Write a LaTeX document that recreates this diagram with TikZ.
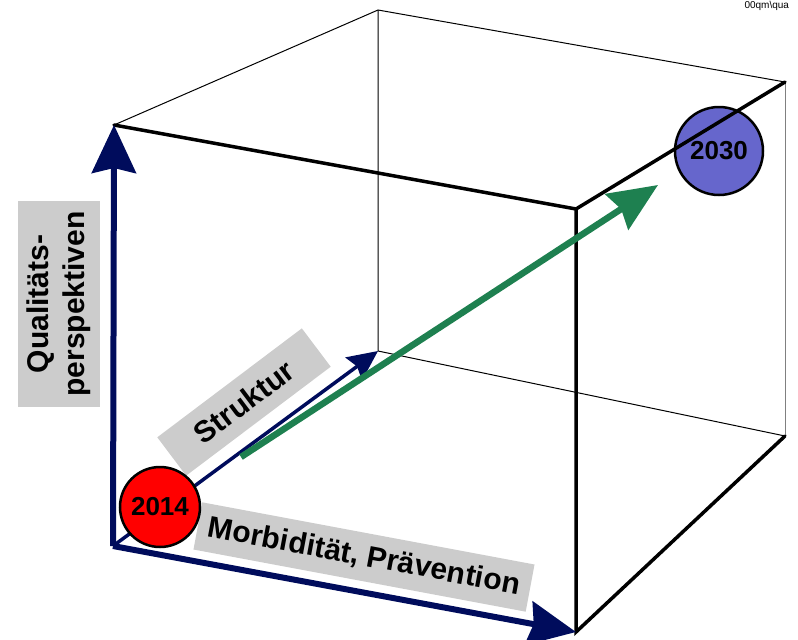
\documentclass[tikz,border=0pt]{standalone}
\usepackage{fontspec}
\setmainfont{Liberation Sans}
\usetikzlibrary{arrows.meta}
\definecolor{navy}{RGB}{0,12,92}
\definecolor{darkgreen}{RGB}{30,128,80}
\definecolor{lightgray}{RGB}{204,204,204}
\definecolor{violet}{RGB}{102,102,204}
\begin{document}
\begin{tikzpicture}[
                        x=1pt, y=-1pt,
                        thinedge/.style={draw=black, line width=1pt},
                        thickedge/.style={draw=black, line width=3.5pt, line cap=round},
                        axis/.style={draw=navy, line width=6pt, -{Stealth[length=48pt,width=44pt,inset=5pt]}},
                        label/.style={fill=lightgray, inner sep=0pt, font=\fontsize{30}{36}\selectfont\bfseries},
                        year/.style={circle, draw=black, line width=2.5pt, inner sep=0pt, font=\fontsize{26}{30}\selectfont\bfseries}
                    ]
                    \useasboundingbox (0,0) rectangle (798,640);
                    % Corners
                    \coordinate (ftl) at (114,125);
                    \coordinate (ftr) at (576,209);
                    \coordinate (fbr) at (576,632);
                    \coordinate (fbl) at (113,546);
                    \coordinate (btl) at (378,10);
                    \coordinate (btr) at (785,82);
                    \coordinate (bbr) at (785,436);
                    \coordinate (bbl) at (378,351);
                    \coordinate (trendstart) at (241,457);
                    \coordinate (trendend) at (658,185);

                    % Target year
                    \node [year, fill=violet, minimum size=88pt] (y2030) at (719,151) {2030};

                    % Cube
                    \draw [thinedge] (ftl) -- (btl) -- (btr);
                    \draw [thinedge] (btl) -- (bbl) -- (bbr);
                    \draw [thinedge, draw=gray] (btr) -- (bbr);
                    \draw [thickedge] (ftl) -- (ftr) -- (fbr) -- (bbr);
                    \draw [thickedge] (ftr) -- (btr);

                    % Axes
                    \draw [axis] (fbl) -- (ftl);
                    \draw [axis] (fbl) -- (fbr);
                    \draw [draw=navy, line width=3.5pt, -{Stealth[length=30pt,width=28pt,inset=4pt]}] (fbl) -- (bbl);
                    \draw [draw=darkgreen, line width=6.5pt, -{Stealth[length=49pt,width=42pt,inset=5pt]}] (trendstart) -- (trendend);

                    % Labels
                    \node [label, rotate=90, minimum width=206pt, minimum height=82pt, align=center] (qual) at (59,304) {Qualitäts-\\perspektiven};
                    \node [label, rotate=37, minimum width=181pt, minimum height=48pt] (struk) at (244,402) {Struktur};
                    \node [label, rotate=-10.6, minimum width=338pt, minimum height=48pt] (morb) at (364,557) {Morbidität, Prävention};
                    \node [anchor=west, font=\fontsize{10}{12}\selectfont] (path) at (741,6) {00qm\textbackslash qua};

                    % Start year
                    \node [year, fill=red, minimum size=80pt] (y2014) at (160,507) {2014};
                \end{tikzpicture}
\end{document}
